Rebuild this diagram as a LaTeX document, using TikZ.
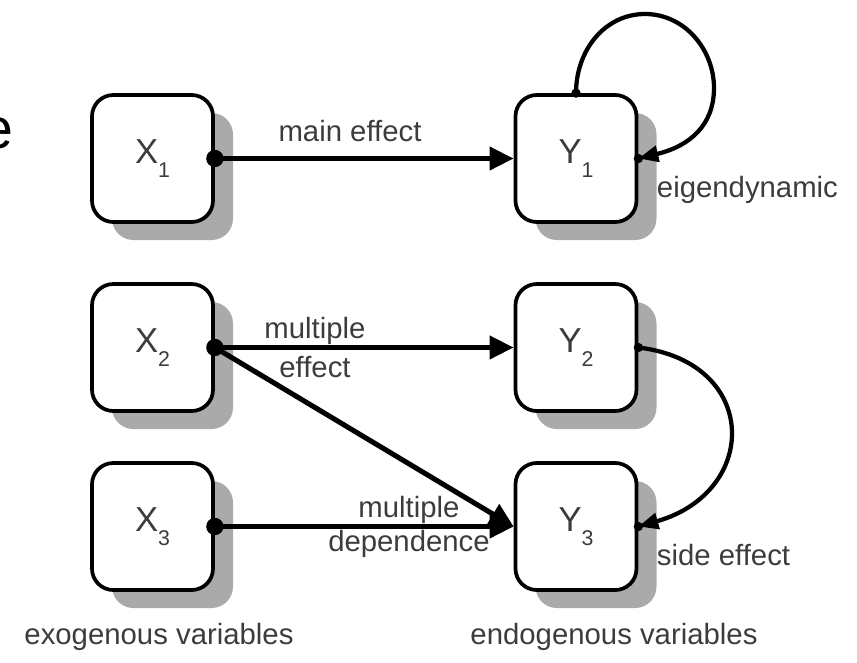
\documentclass[tikz,border=0pt]{standalone}
\usepackage{fontspec}
\setmainfont{Liberation Sans}
\usetikzlibrary{arrows.meta,shadows}
\definecolor{txtgray}{RGB}{60,60,60}
\definecolor{shadowgray}{RGB}{170,170,170}
\newcommand{\vsub}[1]{\raisebox{-0.4em}{\fontsize{16}{16}\selectfont #1}}
\tikzset{every picture/.style={line width=0.75pt}}
\tikzset{
	varbox/.style={draw, line width=2.8pt, rounded corners=16pt, fill=white,
		minimum width=90.75pt, minimum height=95.25pt, text=txtgray,
		font=\fontsize{26}{30}\selectfont,
		drop shadow={shadow xshift=15pt, shadow yshift=-13.5pt, fill=shadowgray, opacity=1}},
	effect/.style={line width=3.8pt, -{Triangle[length=18pt,width=17pt]}},
	loopline/.style={line width=3.2pt, -{Triangle[length=15pt,width=12pt]}},
	lbl/.style={text=txtgray, font=\fontsize{22}{25}\selectfont},
	bigdot/.style={fill=black},
}

\begin{document}
\begin{tikzpicture}[x=0.75pt,y=0.75pt,yscale=-1,xscale=1]
	\useasboundingbox (0,0) rectangle (857,662);

	%Shape: Rounded boxes
	\node [varbox] (X1) at (152.5,158.5) {X\vsub{1}};
	\node [varbox] (Y1) at (576,158.5) {Y\vsub{1}};
	\node [varbox] (X2) at (152.5,347.5) {X\vsub{2}};
	\node [varbox] (Y2) at (576,347.5) {Y\vsub{2}};
	\node [varbox] (X3) at (152.5,526.5) {X\vsub{3}};
	\node [varbox] (Y3) at (576,526.5) {Y\vsub{3}};

	%Straight Lines
	\draw [effect] (X1.east) -- (Y1.west);
	\draw [effect] (X2.east) -- (Y2.west);
	\draw [effect] (X2.east) -- (Y3.west);
	\draw [effect] (X3.east) -- (Y3.west);

	%Curve Lines
	\draw [loopline] (Y1.north) .. controls (576,50) and (605,14) .. (645,14) .. controls (685,14) and (714,50) .. (714,88) .. controls (714,125) and (690,146) .. (Y1.east);
	\draw [loopline] (Y2.east) .. controls (760,362) and (760,492) .. (Y3.east);

	%Shape: Circle
	\fill [bigdot] (X1.east) circle (6.5pt);
	\fill [bigdot] (X2.east) circle (6.5pt);
	\fill [bigdot] (X3.east) circle (6.5pt);
	\fill [bigdot] (Y1.north) circle (3.5pt);
	\fill [bigdot] (Y1.east) circle (3.5pt);
	\fill [bigdot] (Y2.east) circle (3.5pt);
	\fill [bigdot] (Y3.east) circle (3.5pt);

	% Text Node
	\node [lbl] (mainlbl) at (350,131) {main effect};
	% Text Node
	\node [lbl, align=center, font=\fontsize{22}{29}\selectfont] (multlbl) at (315,347.5) {multiple\\effect};
	% Text Node
	\node [lbl, align=center] (deplbl) at (409,527) {multiple\\dependence};
	% Text Node
	\node [lbl, anchor=west] (eigenlbl) at (652,190) {eigendynamic};
	% Text Node
	\node [lbl, anchor=west] (sidelbl) at (652,555) {side effect};
	% Text Node
	\node [lbl] (exolbl) at (159,637) {exogenous variables};
	% Text Node
	\node [lbl] (endolbl) at (614,637) {endogenous variables};
	% Text Node
	\node [anchor=east, inner sep=0pt, font=\fontsize{43}{48}\selectfont] (cutlbl) at (14,133) {e};

\end{tikzpicture}
\end{document}
